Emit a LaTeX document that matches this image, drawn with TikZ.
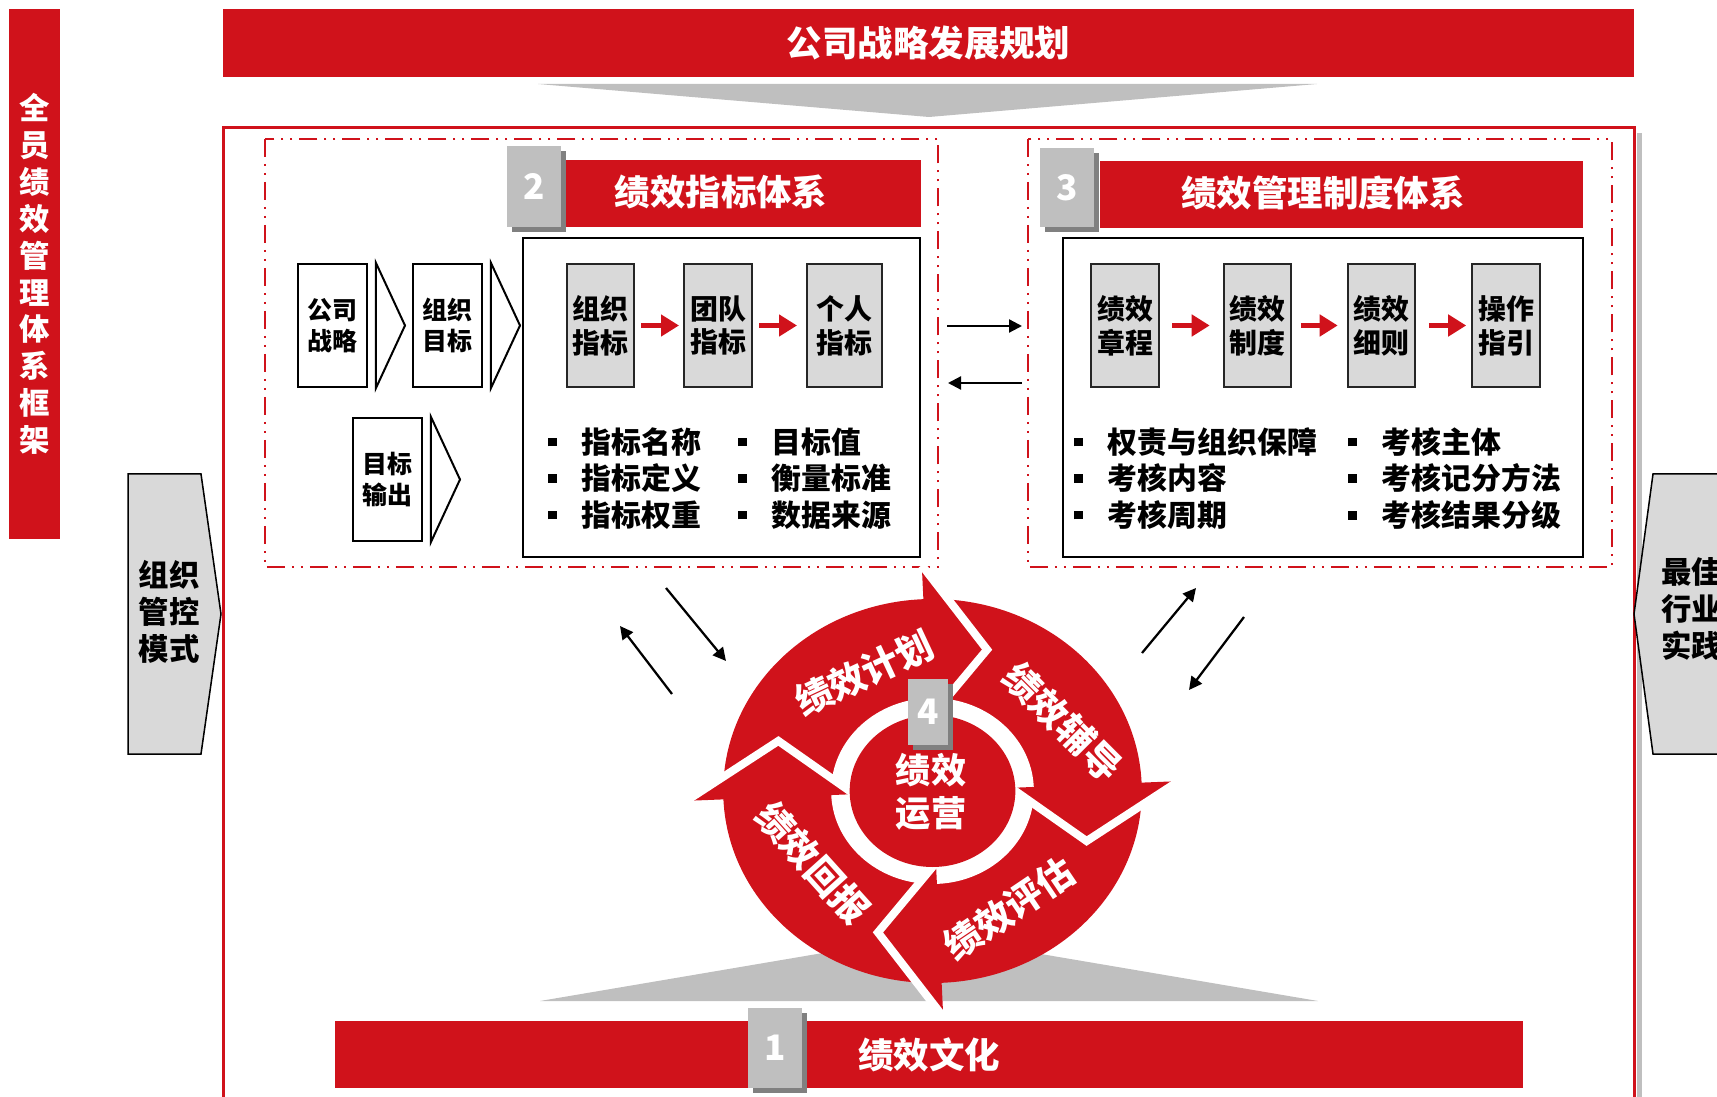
\documentclass[tikz,border=0pt]{standalone}
\usepackage{fontspec}
\setmainfont{Noto Sans CJK SC}
\usetikzlibrary{calc}
\usetikzlibrary{positioning}
\usetikzlibrary{arrows.meta}
\usetikzlibrary{shadows}
\definecolor{theme}{HTML}{D0121B}
\definecolor{numgray}{HTML}{BFBFBF}
\definecolor{boxgray}{HTML}{D9D9D9}
\definecolor{shadegray}{HTML}{808080}
\newcommand{\fsz}[2]{\fontsize{#1}{#2}\selectfont}
\newcommand{\sqbul}{\rule[0.14cm]{0.17cm}{0.17cm}\hspace{0.5cm}}

\begin{document}
\begin{tikzpicture}[x=0.02cm, y=-0.02cm,
    redbar/.style={fill=theme, inner sep=0pt, text=white, font=\bfseries\fsz{20.2}{24}},
    bigtext/.style={text=white, inner sep=0pt, font=\bfseries\fsz{20.2}{24}},
    numbox/.style={fill=numgray, text=white, inner sep=0pt, font=\bfseries\fsz{20}{24},
      drop shadow={shadow xshift=0.1cm, shadow yshift=-0.1cm, fill=shadegray, opacity=1}},
    whitebox/.style={draw=black, fill=white, line width=0.04cm, minimum width=1.38cm, minimum height=2.46cm, align=center, font=\bfseries\fsz{14.2}{18}},
    graybox/.style={draw=black!85, fill=boxgray, line width=0.04cm, minimum width=1.34cm, minimum height=2.46cm, align=center, font=\bfseries\fsz{15.9}{19.3}},
    chev/.style={draw=black, fill=white, line width=0.04cm, line join=miter},
    dashbox/.style={draw=theme, line width=0.05cm, dash pattern=on 0.36cm off 0.14cm on 0.04cm off 0.14cm on 0.04cm off 0.14cm},
    blist/.style={anchor=west, align=left, inner sep=0pt, font=\bfseries\fsz{17}{20.8}},
    redarr/.style={draw=theme, line width=0.1cm, -{Triangle[length=0.36cm,width=0.42cm]}},
    blkarr/.style={line width=0.045cm, -{Triangle[length=0.26cm,width=0.26cm]}},
    sidebox/.style={draw=black, fill=boxgray, line width=0.03cm, line join=miter},
    sidetext/.style={align=left, inner sep=0pt, font=\bfseries\fsz{17.3}{21}},
    cyctext/.style={text=white, inner sep=0pt, font=\bfseries\fsz{21}{24}},
  ]
  \useasboundingbox (0,0) rectangle (1717,1097);

  % left title bar and top strategy bar
  \node[redbar, minimum width=1.04cm, minimum height=10.6cm, align=center, font=\bfseries\fsz{17.3}{21}] (vbar) at (34.5,274) {全\\员\\绩\\效\\管\\理\\体\\系\\框\\架};
  \node[redbar, minimum width=28.22cm, minimum height=1.36cm] (top) at (928.5,43) {公司战略发展规划};
  \fill[numgray] (538,84) -- (1317,84) -- (929,117) -- cycle;

  % outer frame and the two dash-dot areas
  \draw[numgray, line width=0.1cm] (1639,133) -- (1639,1120);
  \draw[theme, line width=0.06cm] (223,128) rectangle (1634,1120);
  \draw[dashbox] (265,139) rectangle (938,567);
  \draw[dashbox] (1028,139) rectangle (1612,567);

  % side arrows
  \draw[sidebox] (128,474) -- (201,474) -- (221,614) -- (201,754) -- (128,754) -- cycle;
  \node[sidetext] (mode) at (169,612) {组织\\管控\\模式};
  \draw[sidebox] (1760,474) -- (1653,474) -- (1634,614) -- (1653,754) -- (1760,754);
  \node[sidetext, anchor=west] (best) at (1661,609) {最佳\\行业\\实践};

  % section 2
  \node[redbar, minimum width=7.1cm, minimum height=1.34cm] (bar2) at (743.5,193.5) {};
  \node[numbox, minimum width=1.08cm, minimum height=1.62cm] (n2) at (534,186.5) {2};
  \node[bigtext] (t2) at (721,192) {绩效指标体系};
  \node[draw, line width=0.04cm, minimum width=7.94cm, minimum height=6.38cm] (box2) at (721.5,397.5) {};
  \node[whitebox] (wa) at (332.5,325.5) {公司\\战略};
  \node[whitebox] (wb) at (447.5,325.5) {组织\\目标};
  \node[whitebox] (wc) at (387.5,479.5) {目标\\输出};
  \foreach \w in {wa,wb,wc}
    \draw[chev] ($(\w.north east)+(8,0)$) -- ($(\w.east)+(37,0)$) -- ($(\w.south east)+(8,0)$) -- cycle;
  \node[graybox] (g1) at (600.5,325.5) {组织\\指标};
  \node[graybox, minimum width=1.36cm] (g2) at (718,325.5) {团队\\指标};
  \node[graybox, minimum width=1.5cm] (g3) at (844.5,325.5) {个人\\指标};
  \draw[redarr, shorten <=0.12cm, shorten >=0.08cm] (g1) -- (g2);
  \draw[redarr, shorten <=0.12cm, shorten >=0.18cm] (g2) -- (g3);
  \node[blist] (l2a) at (548,478.5) {\sqbul 指标名称\\\sqbul 指标定义\\\sqbul 指标权重};
  \node[blist] (l2b) at (738,478.5) {\sqbul 目标值\\\sqbul 衡量标准\\\sqbul 数据来源};

  % section 3
  \node[redbar, minimum width=9.66cm, minimum height=1.34cm] (bar3) at (1341.5,194.5) {};
  \node[numbox, minimum width=1.08cm, minimum height=1.58cm] (n3) at (1067,187.5) {3};
  \node[bigtext] (t3) at (1323,193) {绩效管理制度体系};
  \node[draw, line width=0.04cm, minimum width=10.4cm, minimum height=6.38cm] (box3) at (1323,397.5) {};
  \node[graybox] (h1) at (1125,325.5) {绩效\\章程};
  \node[graybox] (h2) at (1257.5,325.5) {绩效\\制度};
  \node[graybox] (h3) at (1381.5,325.5) {绩效\\细则};
  \node[graybox] (h4) at (1506,325.5) {操作\\指引};
  \draw[redarr, shorten <=0.25cm, shorten >=0.26cm] (h1) -- (h2);
  \draw[redarr, shorten <=0.17cm, shorten >=0.18cm] (h2) -- (h3);
  \draw[redarr, shorten <=0.25cm, shorten >=0.1cm] (h3) -- (h4);
  \node[blist] (l3a) at (1074,478.5) {\sqbul 权责与组织保障\\\sqbul 考核内容\\\sqbul 考核周期};
  \node[blist] (l3b) at (1348,478.5) {\sqbul 考核主体\\\sqbul 考核记分方法\\\sqbul 考核结果分级};

  % links between the areas
  \coordinate (p1) at (947,326);  \coordinate (p2) at (1022,326);
  \coordinate (p3) at (1022,383); \coordinate (p4) at (948,383);
  \coordinate (q1) at (666,588);  \coordinate (q2) at (726,661);
  \coordinate (q3) at (672,694);  \coordinate (q4) at (620,626);
  \coordinate (r1) at (1142,653); \coordinate (r2) at (1196,588);
  \coordinate (r3) at (1244,617); \coordinate (r4) at (1189,690);
  \draw[blkarr] (p1) -- (p2);
  \draw[blkarr] (p3) -- (p4);
  \draw[blkarr] (q1) -- (q2);
  \draw[blkarr] (q3) -- (q4);
  \draw[blkarr] (r1) -- (r2);
  \draw[blkarr] (r3) -- (r4);

  % section 4: the cycle
  \fill[numgray] (540,1001) -- (1318,1001) -- (929,935) -- cycle;
  \begin{scope}[shift={(932.5,791)}, x=0.0218cm, y=0.02cm]
    \fill[theme] (0,0) circle (192);
    \fill[white] (0,0) circle (93);
    \foreach \h in {92.5,2.5,-87.5,182.5} {
      \fill[theme] (\h:222) -- ({\h-22}:150) -- (\h:76) -- cycle;
      \draw[white, line width=0.16cm, line join=miter] (\h:226) -- ({\h-22}:150) -- (\h:72);
    }
    \fill[theme] (0,0) circle (76);
  \end{scope}
  \node[cyctext, rotate=25] (plan) at (864,673) {绩效计划};
  \node[cyctext, rotate=-45] (coach) at (1063,722) {绩效辅导};
  \node[cyctext, rotate=34] (eval) at (1009,909) {绩效评估};
  \node[cyctext, rotate=-48] (reward) at (813,863) {绩效回报};
  \node[numbox, minimum width=0.8cm, minimum height=1.32cm] (n4) at (928,712) {4};
  \node[cyctext, align=center, font=\bfseries\fsz{20}{24.5}] (core) at (931,792) {绩效\\运营};

  % section 1
  \node[redbar, minimum width=23.76cm, minimum height=1.34cm] (bar1) at (929,1054.5) {绩效文化};
  \node[numbox, minimum width=1.08cm, minimum height=1.6cm] (n1) at (775,1048) {1};
\end{tikzpicture}
\end{document}
